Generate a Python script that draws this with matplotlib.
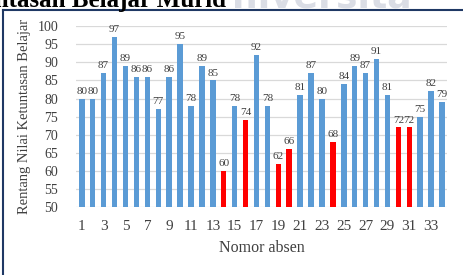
import matplotlib.pyplot as plt
from matplotlib.lines import Line2D

absen = list(range(1, 35))
nilai = [80, 80, 87, 97, 89, 86, 86, 77, 86, 95, 78, 89, 85, 60, 78, 74, 92,
         78, 62, 66, 81, 87, 80, 68, 84, 89, 87, 91, 81, 72, 72, 75, 82, 79]
tidak_tuntas = [14, 16, 19, 20, 24, 30, 31]
xticks = list(range(1, 34, 2))
yticks = list(range(50, 101, 5))

plt.rcParams['font.family'] = ['Liberation Serif', 'DejaVu Serif']

fig = plt.figure(figsize=(4.63, 2.75), dpi=100)
ax = fig.add_axes([0.165, 0.247, 0.8015, 0.658])

colors = ['#ff0000' if a in tidak_tuntas else '#5b9bd5' for a in absen]
bars = ax.bar(absen, [v - 50 for v in nilai], bottom=50, width=0.5,
              color=colors, zorder=3)
for a, v in zip(absen, nilai):
    ax.text(a, v + 0.8, str(v), ha='center', va='bottom', fontsize=8,
            color='#404040', clip_on=False, zorder=4)

ax.set_xlim(0.5, 34.5)
ax.set_ylim(50, 100)
ax.set_xticks(xticks)
ax.set_yticks(yticks)
ax.tick_params(length=0, colors='#404040')
ax.tick_params(axis='y', labelsize=10, pad=13)
ax.tick_params(axis='x', labelsize=11, pad=9)
ax.grid(axis='y', color='#d9d9d9', linewidth=0.9, zorder=0)
for s in ax.spines.values():
    s.set_visible(False)
ax.set_xlabel('Nomor absen', fontsize=11.5, color='#404040', labelpad=5)
ax.set_ylabel('Rentang Nilai Ketuntasan Belajar', fontsize=10.5,
              color='#404040', labelpad=5)

# frame and cropped heading
fig.add_artist(Line2D([3 / 463, 1], [1 - 9.5 / 275] * 2, color='#1f3864',
                      linewidth=1.5, transform=fig.transFigure))
fig.add_artist(Line2D([3 / 463] * 2, [0, 1 - 9.5 / 275], color='#1f3864',
                      linewidth=1.5, transform=fig.transFigure))
fig.text(232 / 463, 1 - 7 / 275, 'niversita', fontsize=26, fontweight='bold',
         family='DejaVu Sans', color='#dadde5', va='baseline', ha='left')
fig.text(226 / 463, 1 - 7 / 275, 'Ketuntasan Belajar Murid', fontsize=18,
         fontweight='bold', color='#000000', va='baseline', ha='right')

fig.savefig('out.png', dpi=100)
